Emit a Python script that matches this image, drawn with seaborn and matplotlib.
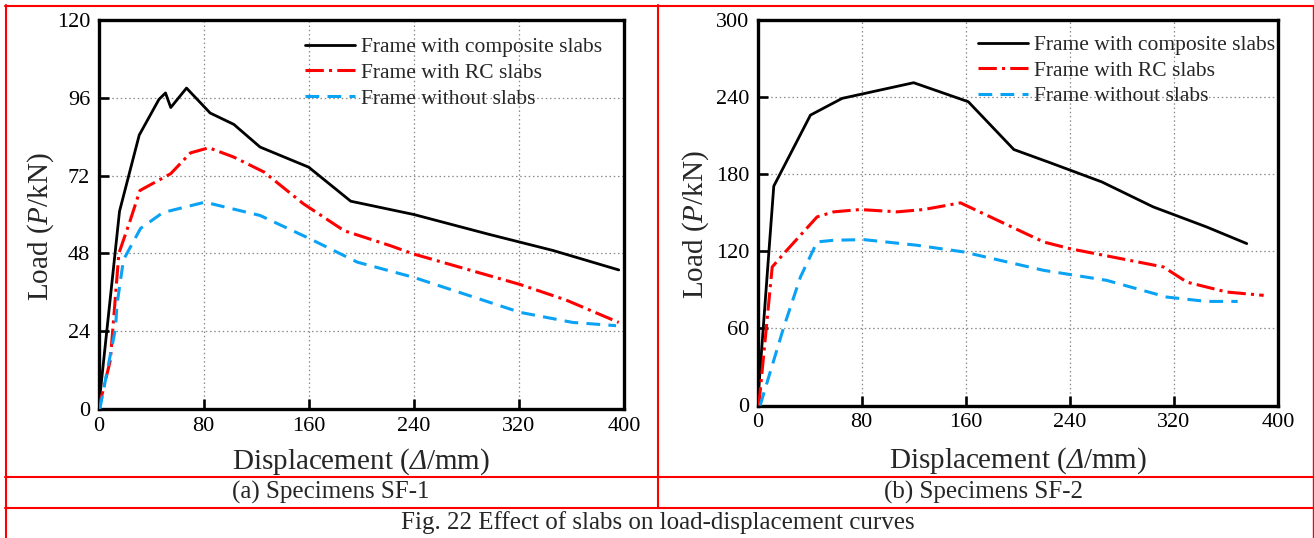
import numpy as np
import pandas as pd
import matplotlib
matplotlib.use("Agg")
import matplotlib.pyplot as plt
import seaborn as sns
from matplotlib.lines import Line2D

# ---------------- data ----------------
legend_labels = ["Frame with composite slabs", "Frame with RC slabs", "Frame without slabs"]
captions = ["(a) Specimens SF-1", "(b) Specimens SF-2"]
fig_caption = "Fig. 22 Effect of slabs on load-displacement curves"

sf1_comp_x = [0, 16, 31, 46, 51, 55, 67, 85, 103, 123, 160, 192, 240, 298, 346, 396]
sf1_comp_y = [0, 61, 84.5, 95.5, 97.5, 93, 99, 91.3, 87.8, 80.8, 74.6, 64.1, 60, 53.8, 48.9, 42.9]
sf1_rc_x = [0, 9, 15.5, 24, 31.5, 55, 70, 84, 103, 126, 156, 187, 222, 240, 321, 356, 396]
sf1_rc_y = [0, 15, 48, 58, 67.4, 72.6, 79, 80.6, 77.7, 73.1, 63.3, 55, 50.4, 47.8, 38.4, 33.6, 26.7]
sf1_none_x = [1, 13, 14, 19, 23, 32, 49, 81, 123, 161, 197, 240, 321, 361, 394]
sf1_none_y = [0, 25, 32, 46, 49, 55.7, 60.6, 63.8, 59.7, 52.5, 45.3, 40.6, 29.8, 26.7, 25.7]

sf2_comp_x = [0, 12.5, 40.7, 65, 120, 162, 197, 225, 264.6, 304, 345, 376]
sf2_comp_y = [0, 170.7, 226, 239, 251.2, 236.4, 199.2, 188.9, 174, 154.6, 139, 126]
sf2_rc_x = [1, 11.3, 20.2, 45.8, 58.6, 79, 107.3, 127.7, 156, 219.8, 240.3, 312, 330, 360.6, 389]
sf2_rc_y = [0, 107.8, 118.2, 146.8, 150.7, 152.5, 150.7, 152.5, 157.7, 127.3, 122, 107.8, 96, 88.3, 85.7]
sf2_none_x = [2, 20.2, 33, 45.8, 58.6, 81.6, 122.6, 158.4, 219.8, 268.3, 314.4, 345, 369]
sf2_none_y = [0, 61, 100, 127.3, 128.6, 129.1, 124.7, 119.5, 105.2, 97.4, 84.4, 81, 81]

x_ticks = [0, 80, 160, 240, 320, 400]
y_ticks_1 = [0, 24, 48, 72, 96, 120]
y_ticks_2 = [0, 60, 120, 180, 240, 300]

# ---------------- style ----------------
sns.set_style("ticks")
plt.rcParams["font.family"] = ["Liberation Serif", "DejaVu Serif"]
plt.rcParams["mathtext.fontset"] = "custom"
plt.rcParams["mathtext.rm"] = "Liberation Serif"
plt.rcParams["mathtext.it"] = "Liberation Serif:italic"
plt.rcParams["mathtext.sf"] = "Liberation Serif:italic"

colors = ["#000000", "#FF0000", "#0AA2F5"]
styles = ["-", (0, (6, 1.7, 1, 1.7)), (0, (4.5, 2.7))]
lw = [2.0, 2.2, 2.2]

fig = plt.figure(figsize=(13.14, 5.38), dpi=100)
W, H = 1314, 538

def px_axes(l, r, t, b):
    return fig.add_axes([l / W, 1 - b / H, (r - l) / W, (b - t) / H])

ax1 = px_axes(98.5, 624, 20, 409)
ax2 = px_axes(757.5, 1278, 20, 405.5)

def draw(ax, series, yticks, legend_anchor, xlab_y, ylab_x):
    for i, (xs, ys) in enumerate(series):
        df = pd.DataFrame({"x": xs, "y": ys})
        sns.lineplot(data=df, x="x", y="y", ax=ax, color=colors[i], linestyle=styles[i],
                     linewidth=lw[i], label=legend_labels[i], sort=False, estimator=None,
                     zorder=3)
    ax.set_xlim(0, 400)
    ax.set_ylim(yticks[0], yticks[-1])
    ax.set_xticks(x_ticks)
    ax.set_yticks(yticks)
    ax.grid(True, linestyle=(0, (1.2, 2.2)), color="#8a8a8a", linewidth=0.9, zorder=0)
    ax.set_axisbelow(True)
    for s in ax.spines.values():
        s.set_visible(True)
        s.set_linewidth(2.4)
        s.set_color("black")
    ax.tick_params(axis="both", direction="in", length=7, width=1.9, labelsize=16,
                   colors="black", top=False, right=False)
    ax.tick_params(axis="y", pad=6)
    ax.tick_params(axis="x", pad=5.5)
    ax.set_xlabel("Displacement ($\\mathsf{\\Delta}$/mm)", fontsize=21)
    ax.set_ylabel("Load ($\\mathsf{P}$/kN)", fontsize=21)
    ax.xaxis.set_label_coords(0.5, xlab_y)
    ax.yaxis.set_label_coords(ylab_x, 0.47)
    ax.legend(loc="upper left", bbox_to_anchor=legend_anchor, frameon=False,
              fontsize=15.5, handlelength=2.3, handletextpad=0.3,
              labelspacing=0.26, borderpad=0, borderaxespad=0)

draw(ax1, [(sf1_comp_x, sf1_comp_y), (sf1_rc_x, sf1_rc_y), (sf1_none_x, sf1_none_y)],
     y_ticks_1, (0.393, 0.956), -0.096, -0.080)
draw(ax2, [(sf2_comp_x, sf2_comp_y), (sf2_rc_x, sf2_rc_y), (sf2_none_x, sf2_none_y)],
     y_ticks_2, (0.424, 0.961), -0.104, -0.090)

# ---------------- table frame ----------------
def hline(y, x0, x1, lw_=1.5):
    fig.add_artist(Line2D([x0 / W, x1 / W], [1 - y / H, 1 - y / H], color="#FF0000",
                          linewidth=lw_, transform=fig.transFigure))

def vline(x, y0, y1, lw_=1.5):
    fig.add_artist(Line2D([x / W, x / W], [1 - y0 / H, 1 - y1 / H], color="#FF0000",
                          linewidth=lw_, transform=fig.transFigure))

hline(6, 5, 1313)
hline(477, 5, 1313)
hline(508, 5, 1313)
vline(5.5, 5, 538)
vline(1312.5, 5, 538, 1.0)
vline(658, 5, 508)

fig.text(331 / W, 1 - 492 / H, captions[0], ha="center", va="center", fontsize=18)
fig.text(984 / W, 1 - 492 / H, captions[1], ha="center", va="center", fontsize=18)
fig.text(658 / W, 1 - 523 / H, fig_caption, ha="center", va="center", fontsize=18)

fig.savefig("out.png", dpi=100)
